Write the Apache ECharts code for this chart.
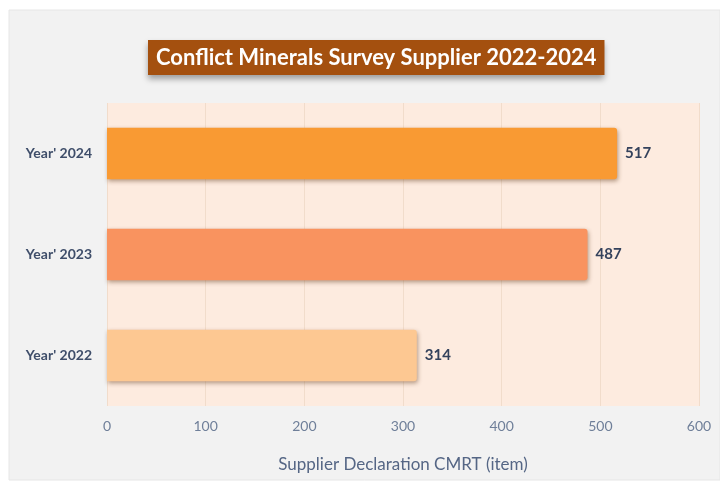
<!DOCTYPE html>
<html><head><meta charset="utf-8">
<script src="https://cdn.jsdelivr.net/npm/echarts@6/dist/echarts.min.js"></script>
<style>html,body{margin:0;padding:0;background:#fff}#c{width:720px;height:484px}</style>
</head><body><div id="c"></div>
<script>
var categories = ["Year' 2022", "Year' 2023", "Year' 2024"];
var values = [314, 487, 517];
var barColors = ["#fdc892", "#f9935f", "#f99a33"];
var xTicks = [0, 100, 200, 300, 400, 500, 600];
var titleText = "Conflict Minerals Survey Supplier 2022-2024";
var axisTitle = "Supplier Declaration CMRT (item)";

var chart = echarts.init(document.getElementById('c'), null, {renderer: 'canvas'});
chart.setOption({
  backgroundColor: '#ffffff',
  animation: false,
  graphic: [{
    type: 'rect', z: -10, silent: true,
    shape: {x: 9, y: 10, width: 711, height: 470},
    style: {fill: '#f2f2f2', stroke: '#e6e6e6', lineWidth: 1}
  }],
  title: {
    text: titleText,
    left: 148, top: 40,
    backgroundColor: '#a4500f',
    padding: [5, 8, 5, 8],
    shadowColor: 'rgba(0,0,0,0.35)', shadowBlur: 6, shadowOffsetY: 4,
    textStyle: {color: '#ffffff', fontFamily: 'Lato', fontWeight: 'bold', fontSize: 22, lineHeight: 25}
  },
  grid: {
    left: 107, right: 21, top: 103, bottom: 78,
    show: true, backgroundColor: '#fdebdf', borderWidth: 0
  },
  xAxis: {
    type: 'value', min: 0, max: 600, interval: 100,
    axisLine: {show: false}, axisTick: {show: false},
    splitLine: {show: true, lineStyle: {color: '#f1dccb', width: 1}},
    axisLabel: {color: '#6f7f99', fontFamily: 'Lato', fontSize: 14, margin: 13,
      formatter: function (v) { return xTicks.indexOf(v) >= 0 ? String(v) : ''; }},
    name: axisTitle, nameLocation: 'middle', nameGap: 50,
    nameTextStyle: {color: '#556685', fontFamily: 'Lato', fontSize: 17}
  },
  yAxis: {
    type: 'category', data: categories,
    axisLine: {show: false}, axisTick: {show: false},
    axisLabel: {color: '#3f4e6a', fontFamily: 'Lato', fontWeight: 'bold', fontSize: 14, margin: 15}
  },
  series: [{
    type: 'bar',
    data: values.map(function (v, i) { return {value: v, itemStyle: {color: barColors[i]}}; }),
    barWidth: '51%',
    itemStyle: {
      borderRadius: [0, 3, 3, 0],
      shadowColor: 'rgba(90,50,20,0.45)', shadowBlur: 4, shadowOffsetX: 1, shadowOffsetY: 2
    },
    label: {show: true, position: 'right', distance: 8, color: '#34425c',
      fontFamily: 'Lato', fontWeight: 'bold', fontSize: 15}
  }]
});
</script></body></html>
